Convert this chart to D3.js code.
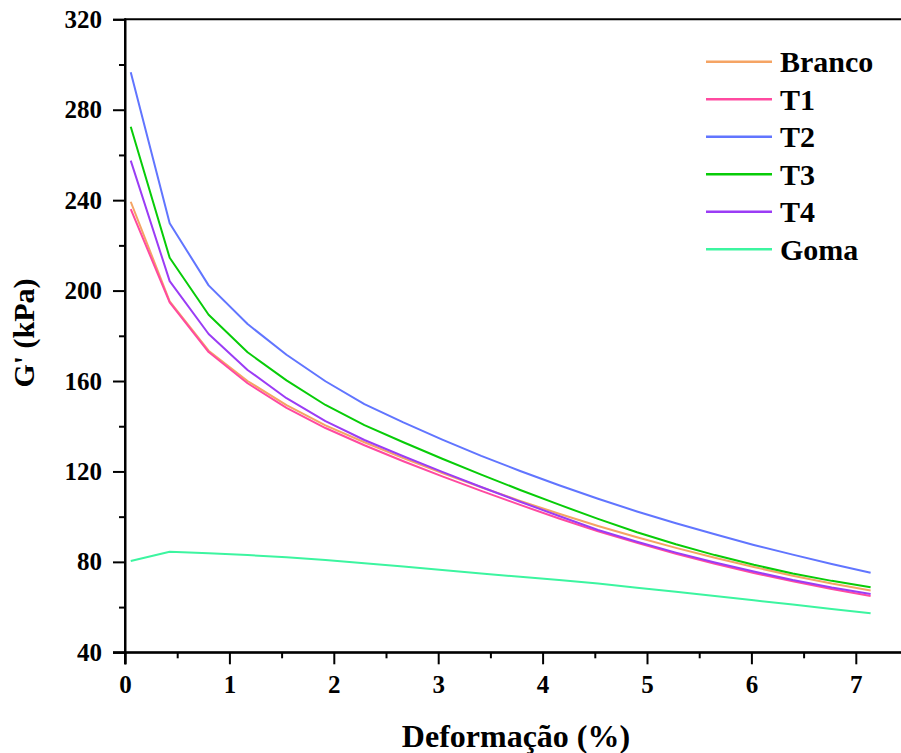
<!DOCTYPE html>
<html>
<head>
<meta charset="utf-8">
<script src="https://cdn.jsdelivr.net/npm/d3@7"></script>
<style>
  html, body { margin: 0; padding: 0; background: #fff; }
  svg { display: block; font-family: "Liberation Serif", "Times New Roman", serif; font-weight: bold; }
</style>
</head>
<body>
<div id="chart"></div>
<script>
// strain values (%)
const deformacao = [0.055, 0.428, 0.801, 1.174, 1.547, 1.920, 2.293, 2.666, 3.039, 3.412,
                    3.785, 4.158, 4.531, 4.904, 5.277, 5.650, 6.023, 6.396, 6.769, 7.142];

// G' (kPa) for each sample
const branco = [239.3, 195.2, 173.4, 160.0, 149.3, 140.4, 132.9, 125.9, 119.3, 113.0,
                107.0, 101.3, 95.9, 90.9, 86.2, 81.8, 77.7, 73.9, 70.4, 67.3];
const t1 = [236.0, 194.8, 172.8, 159.0, 148.1, 139.2, 131.6, 124.5, 117.8, 111.4,
            105.2, 99.2, 93.5, 88.4, 83.6, 79.2, 75.1, 71.4, 68.0, 64.9];
const t2 = [296.6, 229.8, 202.3, 185.2, 171.6, 159.9, 149.8, 141.7, 134.1, 126.9,
            120.2, 113.9, 107.9, 102.3, 97.1, 92.2, 87.5, 83.2, 79.1, 75.2];
const t3 = [272.5, 214.5, 189.3, 172.7, 160.3, 149.4, 140.5, 132.9, 125.6, 118.6,
            111.8, 105.3, 99.0, 93.1, 87.8, 83.0, 78.7, 74.9, 71.6, 68.8];
const t4 = [257.5, 204.2, 180.8, 164.9, 152.4, 142.3, 133.9, 126.7, 119.8, 113.1,
            106.6, 100.3, 94.1, 88.9, 84.1, 79.7, 75.7, 72.0, 68.7, 65.8];
const goma = [80.4, 84.5, 83.8, 83.0, 82.0, 80.8, 79.4, 77.9, 76.4, 74.9,
              73.4, 72.0, 70.4, 68.6, 66.8, 64.9, 63.0, 61.1, 59.2, 57.3];

const seriesNames = ["Branco", "T1", "T2", "T3", "T4", "Goma"];
const seriesValues = [branco, t1, t2, t3, t4, goma];
const seriesColors = ["#F5A464", "#FF4AA0", "#6175FF", "#08CC08", "#9B3CF5", "#3CF5A0"];

const yTicks = [40, 80, 120, 160, 200, 240, 280, 320];
const xTicks = [0, 1, 2, 3, 4, 5, 6, 7];

const W = 901, H = 753;
const margin = { top: 19.3, left: 125, bottom: 100.7 };

const x = d3.scaleLinear()
    .domain([0, 7.5])
    .range([margin.left, margin.left + 104.4 * 7.5]);

const y = d3.scaleLinear()
    .domain([40, 320])
    .range([H - margin.bottom, margin.top]);

const svg = d3.select("#chart")
    .append("svg")
    .attr("width", W)
    .attr("height", H);

// lines
const line = d3.line()
    .x((d, i) => x(deformacao[i]))
    .y(d => y(d));

seriesValues.forEach((vals, k) => {
    svg.append("path")
        .attr("fill", "none")
        .attr("stroke", seriesColors[k])
        .attr("stroke-width", 2)
        .attr("stroke-linejoin", "round")
        .attr("d", line(vals));
});

// top frame line
svg.append("line")
    .attr("x1", x(0)).attr("x2", W)
    .attr("y1", y(320)).attr("y2", y(320))
    .attr("stroke", "#000").attr("stroke-width", 2);

// y axis, major + minor ticks
svg.append("g")
    .attr("transform", "translate(" + x(0) + ",0)")
    .call(d3.axisLeft(y).tickValues(yTicks).tickSizeOuter(0).tickSize(12).tickPadding(11));

svg.append("g")
    .attr("transform", "translate(" + x(0) + ",0)")
    .call(d3.axisLeft(y).tickValues(d3.range(60, 320, 40)).tickSize(6).tickFormat("").tickSizeOuter(0))
    .select(".domain").remove();

// x axis, major + minor ticks
svg.append("g")
    .attr("transform", "translate(0," + y(40) + ")")
    .call(d3.axisBottom(x).tickValues(xTicks).tickSizeOuter(0).tickSize(12).tickPadding(11));

svg.append("g")
    .attr("transform", "translate(0," + y(40) + ")")
    .call(d3.axisBottom(x).tickValues(d3.range(0.5, 7.5, 1)).tickSize(6).tickFormat("").tickSizeOuter(0))
    .select(".domain").remove();

// extend the axis lines to the corner, like the original
svg.append("line")
    .attr("x1", x(0) - 12).attr("x2", W)
    .attr("y1", y(40)).attr("y2", y(40))
    .attr("stroke", "#000").attr("stroke-width", 2);
svg.append("line")
    .attr("x1", x(0)).attr("x2", x(0))
    .attr("y1", y(320) - 1).attr("y2", y(40) + 12)
    .attr("stroke", "#000").attr("stroke-width", 2);

svg.selectAll(".domain").attr("stroke-width", 2);
svg.selectAll(".tick line").attr("stroke-width", 2);
svg.selectAll(".tick text")
    .attr("font-family", "Liberation Serif, Times New Roman, serif")
    .attr("font-weight", "bold")
    .attr("font-size", 25)
    .attr("fill", "#000");

// axis titles
svg.append("text")
    .attr("x", 516)
    .attr("y", 747)
    .attr("text-anchor", "middle")
    .attr("font-size", 32)
    .text("Deformação (%)");

svg.append("text")
    .attr("transform", "translate(34,333) rotate(-90)")
    .attr("text-anchor", "middle")
    .attr("font-size", 30)
    .text("G' (kPa)");

// legend
const legend = svg.append("g");
seriesNames.forEach((name, k) => {
    const ly = 61.7 + k * 37.5;
    legend.append("line")
        .attr("x1", 706).attr("x2", 772)
        .attr("y1", ly).attr("y2", ly)
        .attr("stroke", seriesColors[k])
        .attr("stroke-width", 2.5);
    legend.append("text")
        .attr("x", 780)
        .attr("y", ly + 10.3)
        .attr("font-size", 30)
        .text(name);
});
</script>
</body>
</html>
